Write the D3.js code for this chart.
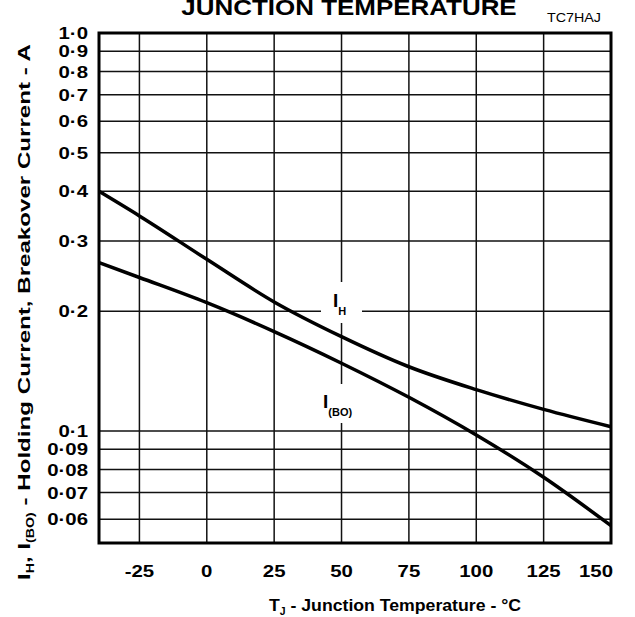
<!DOCTYPE html>
<html><head><meta charset="utf-8">
<script src="https://cdn.jsdelivr.net/npm/d3@7"></script>
<style>body{margin:0;background:#fff}svg{display:block}text{font-family:"Liberation Sans",Arial,Helvetica,sans-serif;fill:#000}</style>
</head><body>
<svg id="c" width="635" height="617"></svg>
<script>
// Data
const temps = [-40, -25, 0, 25, 50, 75, 100, 125, 150];
const holdingCurrent = [0.40, 0.347, 0.270, 0.211, 0.1726, 0.145, 0.127, 0.1133, 0.1025];
const breakoverCurrent = [0.265, 0.243, 0.210, 0.1777, 0.148, 0.1215, 0.0977, 0.0765, 0.0578];
const xTickValues = [-25, 0, 25, 50, 75, 100, 125, 150];
const yTickValues = [1.0, 0.9, 0.8, 0.7, 0.6, 0.5, 0.4, 0.3, 0.2, 0.1, 0.09, 0.08, 0.07, 0.06];
const yTickLabels = ["1·0","0·9","0·8","0·7","0·6","0·5","0·4","0·3","0·2","0·1","0·09","0·08","0·07","0·06"];

const svg = d3.select("#c");
const L = 99, R = 611, T = 33, B = 543;
const SX = 1.2; // wide lettering
const x = d3.scaleLinear().domain([-40, 150]).range([L, R]);
const y = d3.scaleLog().domain([0.0523, 1.0]).range([B, T]);

// horizontal gridlines
svg.append("g").selectAll("line").data(yTickValues.filter(v => v < 1)).join("line")
  .attr("x1", L).attr("x2", R).attr("y1", d => y(d)).attr("y2", d => y(d))
  .attr("stroke", "#111").attr("stroke-width", 1.5);
// vertical gridlines
svg.append("g").selectAll("line").data(xTickValues.filter(v => v < 150)).join("line")
  .attr("y1", T).attr("y2", B).attr("x1", d => x(d)).attr("x2", d => x(d))
  .attr("stroke", "#111").attr("stroke-width", 1.5);

// gaps behind curve labels
svg.append("rect").attr("x", 321).attr("y", 282).attr("width", 41).attr("height", 41).attr("fill", "#fff");
svg.append("rect").attr("x", 321).attr("y", 384).attr("width", 40).attr("height", 39).attr("fill", "#fff");

// curves
const line = d3.line().x(d => x(d[0])).y(d => y(d[1])).curve(d3.curveMonotoneX);
svg.append("path").attr("d", line(temps.map((t, i) => [t, holdingCurrent[i]])))
  .attr("fill", "none").attr("stroke", "#000").attr("stroke-width", 3.5);
svg.append("path").attr("d", line(temps.map((t, i) => [t, breakoverCurrent[i]])))
  .attr("fill", "none").attr("stroke", "#000").attr("stroke-width", 3.5);

// frame
svg.append("rect").attr("x", L).attr("y", T).attr("width", R - L).attr("height", B - T)
  .attr("fill", "none").attr("stroke", "#000").attr("stroke-width", 3);

// y tick labels
svg.append("g").selectAll("text").data(yTickValues).join("text")
  .attr("transform", d => `translate(88,${y(d) + 6}) scale(${SX},1)`)
  .attr("text-anchor", "end").attr("font-weight", "bold").attr("font-size", 17)
  .text((d, i) => yTickLabels[i]);

// x tick labels (last one kept inside the frame's right edge)
svg.append("g").selectAll("text").data(xTickValues).join("text")
  .attr("transform", d => `translate(${d === 150 ? x(d) + 2 : x(d)},577) scale(${SX},1)`)
  .attr("text-anchor", d => d === 150 ? "end" : "middle")
  .attr("font-weight", "bold").attr("font-size", 17)
  .text(d => d);

// x axis title
const xt = svg.append("text").attr("transform", `translate(395,611) scale(1.04,1)`)
  .attr("text-anchor", "middle").attr("font-weight", "bold").attr("font-size", 17);
xt.append("tspan").text("T");
xt.append("tspan").attr("font-size", 10).attr("dy", 4).text("J");
xt.append("tspan").attr("dy", -4).text(" - Junction Temperature - °C");

// y axis title
const yt = svg.append("text").attr("transform", `translate(30,312) rotate(-90) scale(1.42,1)`)
  .attr("text-anchor", "middle").attr("font-weight", "bold").attr("font-size", 17);
yt.append("tspan").text("I");
yt.append("tspan").attr("font-size", 10).attr("dy", 4).text("H");
yt.append("tspan").attr("dy", -4).text(", I");
yt.append("tspan").attr("font-size", 10).attr("dy", 4).text("(BO)");
yt.append("tspan").attr("dy", -4).text(" - Holding Current, Breakover Current - A");

// title and code
svg.append("text").attr("transform", `translate(349,15) scale(1.18,1)`).attr("text-anchor", "middle")
  .attr("font-weight", "bold").attr("font-size", 22).text("JUNCTION TEMPERATURE");
svg.append("text").attr("transform", `translate(601,22) scale(1.1,1)`).attr("text-anchor", "end")
  .attr("font-size", 13).text("TC7HAJ");

// curve labels
const lh = svg.append("text").attr("x", 333).attr("y", 307).attr("font-weight", "bold").attr("font-size", 19);
lh.append("tspan").text("I");
lh.append("tspan").attr("font-size", 11).attr("dy", 8).text("H");
const lb = svg.append("text").attr("x", 323).attr("y", 408).attr("font-weight", "bold").attr("font-size", 19);
lb.append("tspan").text("I");
lb.append("tspan").attr("font-size", 11).attr("dy", 8).text("(BO)");
</script>
</body></html>
